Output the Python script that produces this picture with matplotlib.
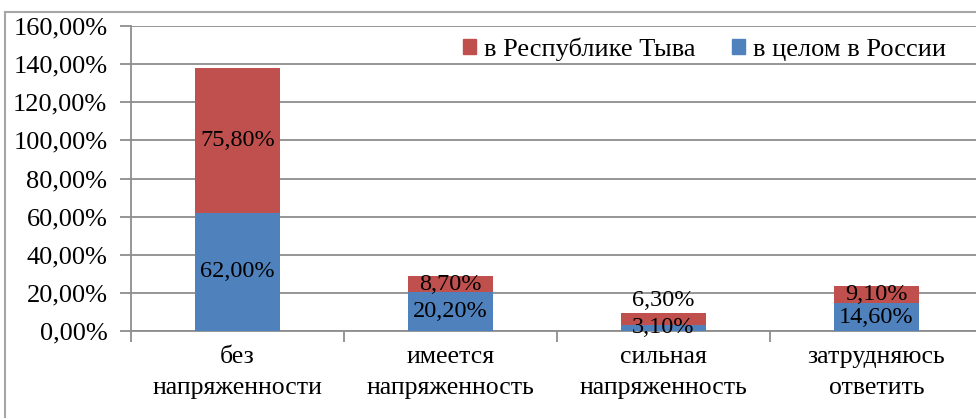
import matplotlib.pyplot as plt
from matplotlib.lines import Line2D
from matplotlib.patches import Patch
import numpy as np

# data
categories = ['без\nнапряженности', 'имеется\nнапряженность', 'сильная\nнапряженность', 'затрудняюсь\nответить']
russia = [62.0, 20.2, 3.1, 14.6]   # в целом в России
tyva = [75.8, 8.7, 6.3, 9.1]       # в Республике Тыва
yticks = [0, 20, 40, 60, 80, 100, 120, 140, 160]

RED = '#C0504D'
BLUE = '#4F81BD'
GRID = '#8E8E8E'

plt.rcParams['font.family'] = ['Liberation Serif', 'DejaVu Serif']


def pct(v):
    return f'{v:.2f}'.replace('.', ',') + '%'


W, H = 976, 418
fig = plt.figure(figsize=(W / 100, H / 100), dpi=100)
ax = fig.add_axes([131 / W, 1 - 331 / H, (983 - 131) / W, (331 - 26) / H])

x = np.arange(len(categories))
ax.bar(x, russia, width=0.4, color=BLUE, zorder=3)
ax.bar(x, tyva, width=0.4, bottom=russia, color=RED, zorder=3)

# value labels (centered in segments, small segments nudged like the original)
for i in range(len(categories)):
    yb = russia[i] / 2
    yr = russia[i] + tyva[i] / 2
    if i == 2:
        yb = russia[i] - 1.5
        yr = russia[i] + tyva[i] + 6.5
    ax.text(x[i], yb, pct(russia[i]), ha='center', va='center', fontsize=17.5, color='black', zorder=5)
    ax.text(x[i], yr, pct(tyva[i]), ha='center', va='center', fontsize=17.5, color='black', zorder=5)

ax.set_xlim(-0.5, len(categories) - 0.5)
ax.set_ylim(0, 160)
ax.set_yticks(yticks)
ax.set_yticklabels([pct(v) for v in yticks], fontsize=19)
ax.yaxis.grid(True, color=GRID, linewidth=1.3, zorder=0)
ax.set_axisbelow(True)

ax.set_xticks(x)
ax.set_xticklabels(categories, fontsize=18.5, linespacing=1.5)
ax.set_xticks(np.arange(len(categories) + 1) - 0.5, minor=True)
ax.tick_params(axis='x', which='major', length=0, pad=11)
ax.tick_params(axis='x', which='minor', length=8, color=GRID, width=1.3)
ax.tick_params(axis='y', length=8, color=GRID, width=1.3, pad=9)

for s in ['top', 'right']:
    ax.spines[s].set_visible(False)
for s in ['left', 'bottom']:
    ax.spines[s].set_color(GRID)
    ax.spines[s].set_linewidth(1.3)

handles = [Patch(color=RED), Patch(color=BLUE)]
ax.legend(handles, ['в Республике Тыва', 'в целом в России'], loc='upper right',
          bbox_to_anchor=(970 / W, 1 - 14 / H), bbox_transform=fig.transFigure,
          ncol=2, frameon=False, fontsize=19, handlelength=0.5, handleheight=0.5,
          handletextpad=0.3, columnspacing=1.4)

# outer chart border (cropped on the right and bottom)
fig.add_artist(Line2D([5 / W, 5 / W], [0, 1 - 12 / H], transform=fig.transFigure, color='#A6A6A6', linewidth=1.5))
fig.add_artist(Line2D([5 / W, 1], [1 - 12 / H, 1 - 12 / H], transform=fig.transFigure, color='#A6A6A6', linewidth=1.5))

fig.savefig('out.png', dpi=100)
